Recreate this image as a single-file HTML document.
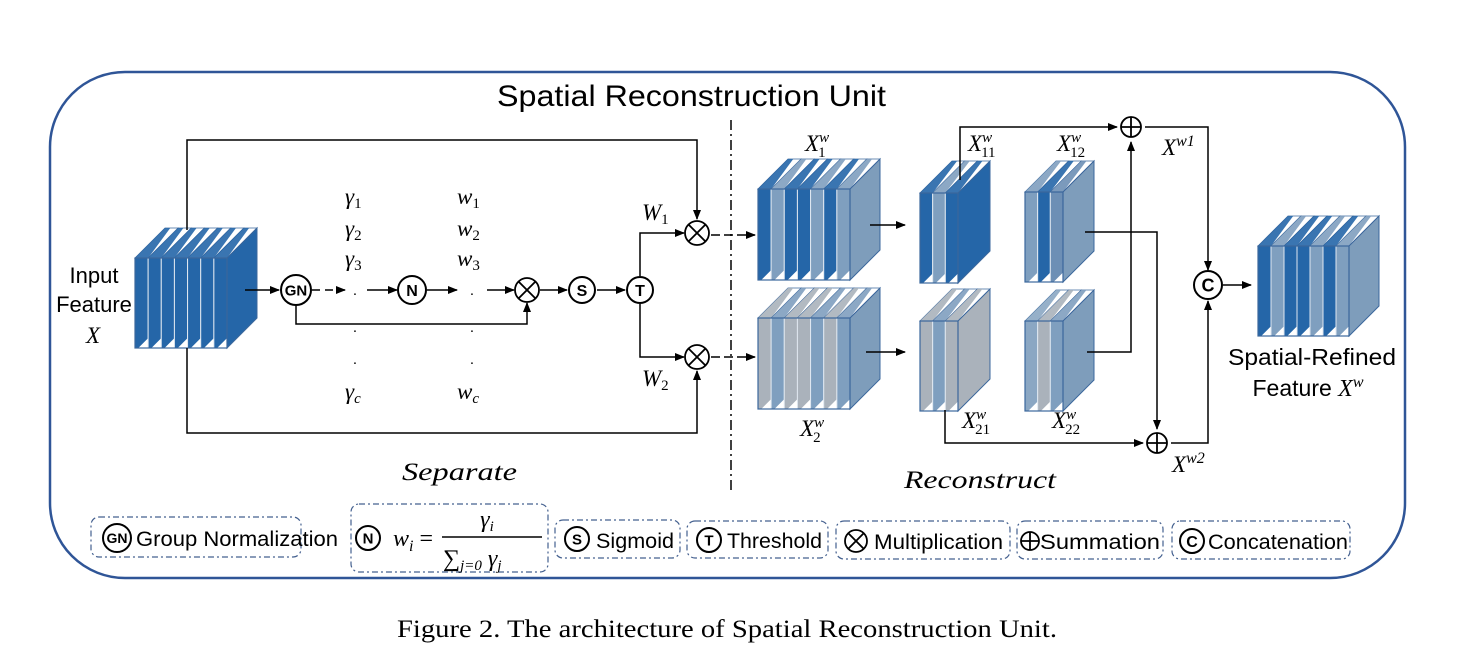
<!DOCTYPE html>
<html><head><meta charset="utf-8">
<style>
html,body{margin:0;padding:0;background:#fff;}
svg{display:block;}
.s{font-family:"Liberation Sans",sans-serif;}
.m{font-family:"Liberation Serif",serif;font-style:italic;}
</style></head><body>
<svg id="v" width="1477" height="665" viewBox="0 0 1477 665" xmlns="http://www.w3.org/2000/svg">
<defs>
<marker id="a" markerWidth="10" markerHeight="8" refX="9" refY="4" orient="auto" markerUnits="userSpaceOnUse">
<path d="M0,0 L10,4 L0,8 z" fill="#000"/></marker>
</defs>
<rect x="50" y="72" width="1355" height="506" rx="75" fill="none" stroke="#2f5597" stroke-width="2.5"/>
<text x="497" y="106" class="s" font-size="30" textLength="389" lengthAdjust="spacingAndGlyphs">Spatial Reconstruction Unit</text>
<line x1="731" y1="120" x2="731" y2="490" stroke="#000" stroke-width="1.5" stroke-dasharray="10,4,2,4"/>
<g id="cubes"></g>
<g stroke="#000" stroke-width="1.5" fill="none">
<polyline points="187,230 187,140 697,140 697,219" marker-end="url(#a)"/>
<polyline points="187,348 187,433 697,433 697,371" marker-end="url(#a)"/>
<line x1="245" y1="290" x2="279" y2="290" marker-end="url(#a)"/>
<line x1="312" y1="290" x2="345" y2="290" stroke-dasharray="8,5" marker-end="url(#a)"/>
<line x1="367" y1="290" x2="397" y2="290" marker-end="url(#a)"/>
<line x1="427" y1="290" x2="457" y2="290" marker-end="url(#a)"/>
<line x1="487" y1="290" x2="514" y2="290" marker-end="url(#a)"/>
<polyline points="296,305 296,324 527,324 527,303" marker-end="url(#a)"/>
<line x1="540" y1="290" x2="567" y2="290" marker-end="url(#a)"/>
<line x1="597" y1="290" x2="625" y2="290" marker-end="url(#a)"/>
<polyline points="640,276 640,233 684,233" marker-end="url(#a)"/>
<polyline points="640,304 640,357 684,357" marker-end="url(#a)"/>
<line x1="711" y1="235" x2="755" y2="235" stroke-dasharray="9,4" marker-end="url(#a)"/>
<line x1="711" y1="357" x2="755" y2="357" stroke-dasharray="9,4" marker-end="url(#a)"/>
<line x1="870" y1="225" x2="905" y2="225" marker-end="url(#a)"/>
<line x1="866" y1="352" x2="905" y2="352" marker-end="url(#a)"/>
<polyline points="960,180 960,127 1117,127" marker-end="url(#a)"/>
<polyline points="1085,232 1157,232 1157,429" marker-end="url(#a)"/>
<polyline points="1087,352 1131,352 1131,142" marker-end="url(#a)"/>
<polyline points="945,410 945,443 1143,443" marker-end="url(#a)"/>
<polyline points="1145,127 1208,127 1208,270" marker-end="url(#a)"/>
<polyline points="1171,443 1208,443 1208,301" marker-end="url(#a)"/>
<line x1="1223" y1="285" x2="1251" y2="285" marker-end="url(#a)"/>
</g>
<g id="ops"></g>
<g class="s" font-size="22" text-anchor="middle">
<text x="94" y="283">Input</text><text x="94" y="312">Feature</text>
<text x="1312" y="365" font-size="23" textLength="168" lengthAdjust="spacingAndGlyphs">Spatial-Refined</text>
<text x="1308" y="396" font-size="23">Feature <tspan class="m" font-size="24">X</tspan><tspan class="m" font-size="16" dy="-9">w</tspan></text>
</g>
<g class="m" font-size="23">
<text x="86" y="343">X</text>
<text x="345" y="204">γ<tspan font-size="15" dy="4" font-style="normal">1</tspan></text>
<text x="345" y="236">γ<tspan font-size="15" dy="4" font-style="normal">2</tspan></text>
<text x="345" y="266">γ<tspan font-size="15" dy="4" font-style="normal">3</tspan></text>
<text x="345" y="399">γ<tspan font-size="15" dy="4">c</tspan></text>
<text x="457" y="204">w<tspan font-size="15" dy="4" font-style="normal">1</tspan></text>
<text x="457" y="236">w<tspan font-size="15" dy="4" font-style="normal">2</tspan></text>
<text x="457" y="266">w<tspan font-size="15" dy="4" font-style="normal">3</tspan></text>
<text x="457" y="399">w<tspan font-size="15" dy="4">c</tspan></text>
<text x="642" y="220">W<tspan font-size="15" dy="4" font-style="normal">1</tspan></text>
<text x="642" y="386">W<tspan font-size="15" dy="4" font-style="normal">2</tspan></text>
<text x="805" y="151">X<tspan font-size="15" dy="-9">w</tspan><tspan font-size="15" dx="-11" dy="15" font-style="normal">1</tspan></text>
<text x="800" y="436">X<tspan font-size="15" dy="-9">w</tspan><tspan font-size="15" dx="-11" dy="15" font-style="normal">2</tspan></text>
<text x="968" y="151">X<tspan font-size="15" dy="-9">w</tspan><tspan font-size="15" dx="-11" dy="15" font-style="normal">11</tspan></text>
<text x="1057" y="151">X<tspan font-size="15" dy="-9">w</tspan><tspan font-size="15" dx="-11" dy="15" font-style="normal">12</tspan></text>
<text x="962" y="428">X<tspan font-size="15" dy="-9">w</tspan><tspan font-size="15" dx="-11" dy="15" font-style="normal">21</tspan></text>
<text x="1052" y="428">X<tspan font-size="15" dy="-9">w</tspan><tspan font-size="15" dx="-11" dy="15" font-style="normal">22</tspan></text>
<text x="1162" y="155">X<tspan font-size="16" dy="-9">w1</tspan></text>
<text x="1172" y="472">X<tspan font-size="16" dy="-9">w2</tspan></text>
<text x="402" y="480" font-size="25" textLength="115" lengthAdjust="spacingAndGlyphs">Separate</text>
<text x="904" y="488" font-size="25" textLength="152" lengthAdjust="spacingAndGlyphs">Reconstruct</text>
</g>
<g class="s" font-size="15" text-anchor="middle">
<text x="355" y="295">.</text><text x="355" y="332">.</text><text x="355" y="364">.</text>
<text x="472" y="295">.</text><text x="472" y="332">.</text><text x="472" y="364">.</text>
</g>
<g fill="none" stroke="#44608f" stroke-width="1.2" stroke-dasharray="6,3,2,3">
<rect x="91" y="517" width="210" height="40" rx="8"/>
<rect x="351" y="504" width="197" height="68" rx="8"/>
<rect x="555" y="520" width="125" height="38" rx="8"/>
<rect x="687" y="521" width="141" height="37" rx="8"/>
<rect x="836" y="521" width="174" height="38" rx="8"/>
<rect x="1017" y="521" width="146" height="38" rx="8"/>
<rect x="1172" y="521" width="178" height="38" rx="8"/>
</g>
<g class="s" font-size="21" lengthAdjust="spacingAndGlyphs">
<text x="136" y="546" textLength="202" lengthAdjust="spacingAndGlyphs">Group Normalization</text>
<text x="596" y="548" textLength="78" lengthAdjust="spacingAndGlyphs">Sigmoid</text>
<text x="727" y="548" textLength="95" lengthAdjust="spacingAndGlyphs">Threshold</text>
<text x="874" y="549" textLength="129" lengthAdjust="spacingAndGlyphs">Multiplication</text>
<text x="1040" y="549" textLength="120" lengthAdjust="spacingAndGlyphs">Summation</text>
<text x="1208" y="549" textLength="140" lengthAdjust="spacingAndGlyphs">Concatenation</text>
</g>
<g class="m" font-size="24">
<text x="393" y="546">w<tspan font-size="16" dy="5">i</tspan><tspan dy="-5" font-style="normal"> =</tspan></text>
<text x="487" y="527" text-anchor="middle">γ<tspan font-size="15" dy="4">i</tspan></text>
<line x1="442" y1="537" x2="542" y2="537" stroke="#000" stroke-width="1.5"/>
<text x="443" y="566"><tspan font-style="normal">∑</tspan><tspan font-size="15" dy="4">j=0</tspan><tspan dy="-4"> γ</tspan><tspan font-size="15" dy="4">j</tspan></text>
</g>
<text x="397" y="637" font-family="Liberation Serif,serif" font-size="25" textLength="660" lengthAdjust="spacingAndGlyphs">Figure 2. The architecture of Spatial Reconstruction Unit.</text>
</svg>
<script>
var NS="http://www.w3.org/2000/svg";
function el(p,t,a){var e=document.createElementNS(NS,t);for(var k in a)e.setAttribute(k,a[k]);p.appendChild(e);return e;}
var D="#2566a8",L="#7f9fbf",G="#aab2bb",B="#8ba7c3";
function cube(x,y,w,h,cols,side,d){
 var g=document.getElementById("cubes"),n=cols.length,s=w/n;d=d||30;
 var st="#3b679c";
 for(var i=0;i<n;i++){
  var xi=x+i*s;
  el(g,"polygon",{points:xi+","+y+" "+(xi+s)+","+y+" "+(xi+s+d)+","+(y-d)+" "+(xi+d)+","+(y-d),fill:"#fff",stroke:st,"stroke-width":0.8});
  el(g,"polygon",{points:xi+","+y+" "+(xi+s)+","+y+" "+(xi+s*0.4+d)+","+(y-d)+" "+(xi+d)+","+(y-d),fill:cols[i],"fill-opacity":0.9});
 }
 for(var i=0;i<n;i++){
  var xi=x+i*s;
  el(g,"rect",{x:xi,y:y,width:s,height:h,fill:cols[i],stroke:"#dfe7f0","stroke-width":1});
  el(g,"polygon",{points:(xi+s*0.25)+","+(y+h)+" "+(xi+s)+","+(y+h)+" "+(xi+s)+","+(y+h-s*0.75),fill:"#fff"});
 }
 el(g,"polygon",{points:(x+w)+","+y+" "+(x+w+d)+","+(y-d)+" "+(x+w+d)+","+(y+h-d)+" "+(x+w)+","+(y+h),fill:side,stroke:st,"stroke-width":1});
 el(g,"rect",{x:x,y:y,width:w,height:h,fill:"none",stroke:st,"stroke-width":1.2});
}
cube(135,258,92,90,[D,D,D,D,D,D,D],D);
cube(758,189,92,91,[D,L,D,D,L,D,L],"#7e9dbb");
cube(758,318,92,91,[G,L,G,G,L,G,L],"#7e9dbb");
cube(920,193,38,90,[D,L,D],D,32);
cube(1025,192,38,90,[L,D,"#6d8fb5"],"#7e9dbb",31);
cube(920,321,38,90,[G,L,G],G,32);
cube(1025,321,38,90,[B,G,L],"#7e9dbb",31);
cube(1258,246,91,90,[D,L,D,D,L,D,L],"#7e9dbb");
var o=document.getElementById("ops");
function circ(cx,cy,r,t,fs,sw){el(o,"circle",{cx:cx,cy:cy,r:r,fill:"#fff",stroke:"#000","stroke-width":sw||2});
 if(t){var e=el(o,"text",{x:cx,y:cy+fs*0.36,"text-anchor":"middle","font-size":fs,"font-family":"Liberation Sans,sans-serif","font-weight":"bold"});e.textContent=t;}}
function mult(cx,cy,r){circ(cx,cy,r,null,0,1.8);var k=r*0.7;el(o,"path",{d:"M"+(cx-k)+","+(cy-k)+"L"+(cx+k)+","+(cy+k)+"M"+(cx+k)+","+(cy-k)+"L"+(cx-k)+","+(cy+k),stroke:"#000","stroke-width":1.8});}
function sum(cx,cy,r){circ(cx,cy,r,null,0,1.8);el(o,"path",{d:"M"+(cx-r)+","+cy+"L"+(cx+r)+","+cy+"M"+cx+","+(cy-r)+"L"+cx+","+(cy+r),stroke:"#000","stroke-width":1.8});}
circ(296,290,15,"GN",15);circ(412,290,14,"N",16);mult(527,290,12);circ(582,290,13,"S",16);circ(640,290,13,"T",16);
mult(697,233,12);mult(697,357,12);sum(1131,127,10);sum(1157,443,10);circ(1208,285,14,"C",18);
circ(117,538,14,"GN",14);circ(368,538,12,"N",15);circ(577,539,12,"S",15);circ(709,540,12,"T",15);mult(856,541,11);sum(1030,541,9);circ(1192,541,12,"C",16);
</script>
</body></html>
